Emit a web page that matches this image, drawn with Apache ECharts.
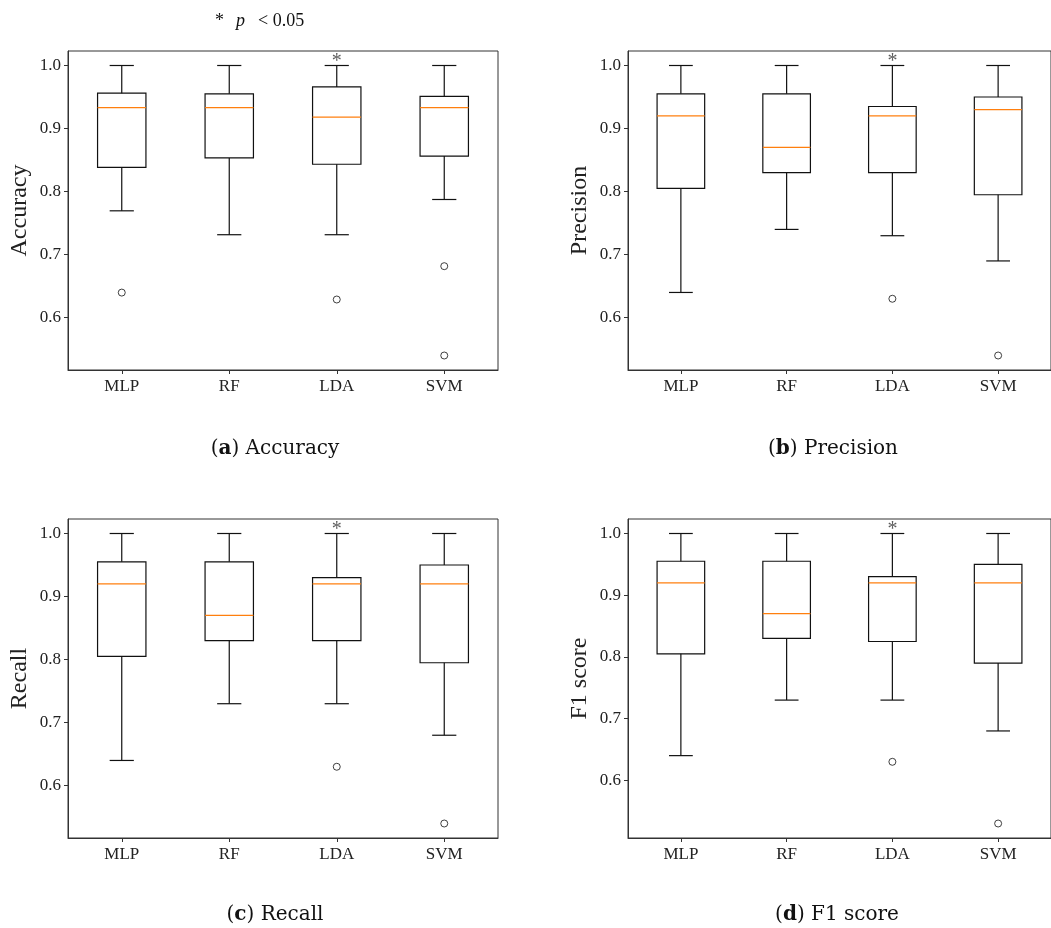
<!DOCTYPE html>
<html>
<head>
<meta charset="utf-8">
<title>Model metrics boxplots</title>
<script src="https://cdn.jsdelivr.net/npm/echarts@6/dist/echarts.min.js"></script>
<style>
  html, body { margin: 0; padding: 0; background: #fff; }
  #chart { width: 1051px; height: 928px; }
</style>
</head>
<body>
<div id="chart"></div>
<script>
// models on the x axis
const models = ['MLP', 'RF', 'LDA', 'SVM']
const yTicks = [0.6, 0.7, 0.8, 0.9, 1.0]

// each box: [low whisker, Q1, median, Q3, high whisker]
const accuracyBoxes = [
  [0.769, 0.838, 0.933, 0.956, 1.0],
  [0.731, 0.853, 0.933, 0.955, 1.0],
  [0.731, 0.843, 0.918, 0.966, 1.0],
  [0.787, 0.856, 0.933, 0.951, 1.0]
]
const accuracyOutliers = [['MLP', 0.639], ['LDA', 0.628], ['SVM', 0.681], ['SVM', 0.539]]

const precisionBoxes = [
  [0.64, 0.805, 0.92, 0.955, 1.0],
  [0.74, 0.83, 0.87, 0.955, 1.0],
  [0.73, 0.83, 0.92, 0.935, 1.0],
  [0.69, 0.795, 0.93, 0.95, 1.0]
]
const precisionOutliers = [['LDA', 0.63], ['SVM', 0.54]]

const recallBoxes = [
  [0.64, 0.805, 0.92, 0.955, 1.0],
  [0.73, 0.83, 0.87, 0.955, 1.0],
  [0.73, 0.83, 0.92, 0.93, 1.0],
  [0.68, 0.795, 0.92, 0.95, 1.0]
]
const recallOutliers = [['LDA', 0.63], ['SVM', 0.54]]

const f1Boxes = [
  [0.64, 0.805, 0.92, 0.955, 1.0],
  [0.73, 0.83, 0.87, 0.955, 1.0],
  [0.73, 0.825, 0.92, 0.93, 1.0],
  [0.68, 0.79, 0.92, 0.95, 1.0]
]
const f1Outliers = [['LDA', 0.63], ['SVM', 0.53]]

// significance mark (p < 0.05) above these models
const significant = [['LDA', 1.0]]

const panels = [
  { name: 'Accuracy', tag: 'a', boxes: accuracyBoxes, outliers: accuracyOutliers },
  { name: 'Precision', tag: 'b', boxes: precisionBoxes, outliers: precisionOutliers },
  { name: 'Recall', tag: 'c', boxes: recallBoxes, outliers: recallOutliers },
  { name: 'F1 score', tag: 'd', boxes: f1Boxes, outliers: f1Outliers }
]

// layout of the 2x2 panels
const grids = [
  { left: 68, top: 51, width: 430, height: 319 },
  { left: 628, top: 51, width: 423.5, height: 319 },
  { left: 68, top: 519, width: 430, height: 319 },
  { left: 628, top: 519, width: 423.5, height: 319 }
]
const captionPos = [[275, 449], [833, 449], [275, 915], [837, 915]]

const serif = 'Liberation Serif'
const textColor = '#222'
const lineColor = '#333'

// matplotlib style autoscale: 5% margin around data
function yRange(p) {
  const vals = []
  p.boxes.forEach(b => vals.push(b[0], b[4]))
  p.outliers.forEach(o => vals.push(o[1]))
  const lo = Math.min(...vals)
  const hi = Math.max(...vals)
  const m = (hi - lo) * 0.05
  return [lo - m, hi + m]
}

function renderBox(params, api) {
  const idx = api.value(0)
  const band = api.size([1, 0])[0]
  const bw = band * 0.225
  const cw = band * 0.1125
  const low = api.coord([idx, api.value(1)])
  const q1 = api.coord([idx, api.value(2)])
  const med = api.coord([idx, api.value(3)])
  const q3 = api.coord([idx, api.value(4)])
  const high = api.coord([idx, api.value(5)])
  const x = low[0]
  const black = { stroke: '#111', lineWidth: 1.2, fill: null }
  return {
    type: 'group',
    children: [
      { type: 'line', shape: { x1: x, y1: low[1], x2: x, y2: q1[1] }, style: black },
      { type: 'line', shape: { x1: x, y1: q3[1], x2: x, y2: high[1] }, style: black },
      { type: 'line', shape: { x1: x - cw, y1: low[1], x2: x + cw, y2: low[1] }, style: black },
      { type: 'line', shape: { x1: x - cw, y1: high[1], x2: x + cw, y2: high[1] }, style: black },
      { type: 'rect', shape: { x: x - bw, y: q3[1], width: bw * 2, height: q1[1] - q3[1] }, style: black },
      { type: 'line', shape: { x1: x - bw, y1: med[1], x2: x + bw, y2: med[1] }, style: { stroke: '#ff7f0e', lineWidth: 1.2 } }
    ]
  }
}

const myChart = echarts.init(document.getElementById('chart'))

const xAxis = []
const yAxis = []
const series = []
const graphic = []

panels.forEach((p, i) => {
  const [ymin, ymax] = yRange(p)
  xAxis.push({
    gridIndex: i,
    type: 'category',
    data: models,
    boundaryGap: true,
    axisLine: { show: true, lineStyle: { color: lineColor, width: 1 } },
    axisTick: { show: true, alignWithLabel: true, length: 4, lineStyle: { color: lineColor } },
    axisLabel: { margin: 8, fontFamily: serif, fontSize: 17, color: textColor },
    splitLine: { show: false }
  })
  yAxis.push({
    gridIndex: i,
    type: 'value',
    min: ymin,
    max: ymax,
    name: p.name,
    nameLocation: 'middle',
    nameGap: 36,
    nameTextStyle: { fontFamily: serif, fontSize: 24, color: textColor },
    axisLine: { show: true, lineStyle: { color: lineColor, width: 1 } },
    axisTick: { show: true, length: 4, customValues: yTicks, lineStyle: { color: lineColor } },
    axisLabel: {
      customValues: yTicks,
      formatter: v => Number(v).toFixed(1),
      margin: 7,
      fontFamily: serif,
      fontSize: 17,
      color: textColor
    },
    splitLine: { show: false }
  })
  series.push({
    type: 'custom',
    xAxisIndex: i,
    yAxisIndex: i,
    renderItem: renderBox,
    encode: { x: 0, y: [1, 2, 3, 4, 5] },
    data: p.boxes.map((b, k) => [k].concat(b)),
    silent: true
  })
  series.push({
    type: 'scatter',
    xAxisIndex: i,
    yAxisIndex: i,
    symbol: 'circle',
    symbolSize: 7,
    itemStyle: { color: '#fff', borderColor: '#111', borderWidth: 1 },
    data: p.outliers,
    silent: true
  })
  series.push({
    type: 'scatter',
    xAxisIndex: i,
    yAxisIndex: i,
    symbolSize: 0,
    label: {
      show: true,
      formatter: '*',
      position: 'top',
      distance: -6,
      fontFamily: serif,
      fontSize: 20,
      color: '#333'
    },
    data: significant,
    silent: true
  })
  graphic.push({
    type: 'text',
    x: captionPos[i][0],
    y: captionPos[i][1],
    style: {
      text: '{n|(}{b|' + p.tag + '}{n|) ' + p.name + '}',
      align: 'center',
      verticalAlign: 'middle',
      rich: {
        n: { fontFamily: 'DejaVu Serif', fontSize: 20, fill: '#111' },
        b: { fontFamily: 'DejaVu Serif', fontSize: 20, fontWeight: 'bold', fill: '#111' }
      }
    }
  })
})

// significance legend at the top
graphic.push(
  { type: 'text', x: 215, y: 12, style: { text: '*', fontFamily: serif, fontSize: 18, fill: '#111' } },
  { type: 'text', x: 236, y: 12, style: { text: 'p', fontFamily: serif, fontStyle: 'italic', fontSize: 18, fill: '#111' } },
  { type: 'text', x: 258, y: 12, style: { text: '< 0.05', fontFamily: serif, fontSize: 18, fill: '#111' } }
)

myChart.setOption({
  animation: false,
  grid: grids.map(g => Object.assign({ show: true, borderColor: lineColor, borderWidth: 1, backgroundColor: 'transparent' }, g)),
  xAxis,
  yAxis,
  series,
  graphic
})
</script>
</body>
</html>
